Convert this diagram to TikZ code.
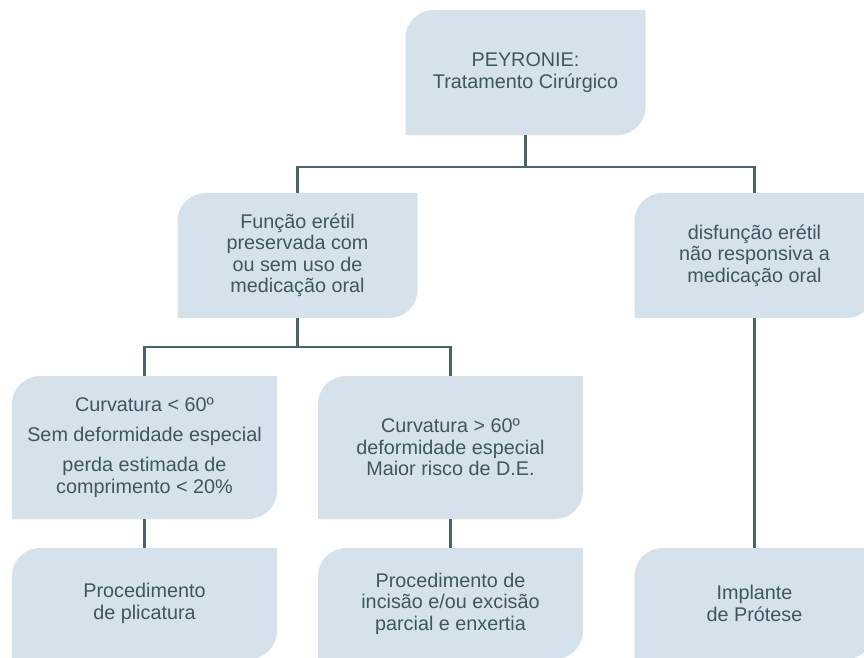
\documentclass[tikz,border=0pt]{standalone}
\usepackage{fontspec}
\setmainfont{Liberation Sans}
\usepackage{xcolor}
\usepackage{tikz}
\usetikzlibrary{calc}
\definecolor{boxfill}{HTML}{D6E2EB}
\definecolor{txtcol}{HTML}{3E5660}
\definecolor{linkcol}{HTML}{4A646A}
\tikzset{
  flowbox/.style={align=center, text=txtcol, inner sep=0pt, outer sep=0pt,
    font=\fontsize{19.8}{21.5}\selectfont,
    path picture={
      \fill[boxfill] (path picture bounding box.south west)
        -- ([yshift=-28pt]path picture bounding box.north west)
        arc[start angle=180, end angle=90, radius=28pt]
        -- (path picture bounding box.north east)
        -- ([yshift=28pt]path picture bounding box.south east)
        arc[start angle=0, end angle=-90, radius=28pt]
        -- cycle;
    }},
  upbox/.style={flowbox, minimum width=240pt, minimum height=125pt},
  lowbox/.style={flowbox, minimum width=265pt, minimum height=143pt},
  endbox/.style={flowbox, minimum width=265pt, minimum height=111pt},
  link/.style={draw=linkcol, line width=2.6pt},
}

\begin{document}
\begin{tikzpicture}[x=1pt, y=-1pt]
\useasboundingbox (0,0) rectangle (864,658);
\clip (0,0) rectangle (864,658);
% tree
\node[upbox] (top) at (525.5,72.5) {PEYRONIE:\\Tratamento Cirúrgico};
\node[upbox] (pres) at (297.5,255.5) {Função erétil\\preservada com\\ou sem uso de\\medicação oral};
\node[upbox] (disf) at (754.5,255.5) {disfunção erétil\\não responsiva a\\medicação oral};
\node[lowbox] (curvA) at (144.5,447.5) {Curvatura < 60º\\[8.5pt]Sem deformidade especial\\[8.5pt]perda estimada de\\comprimento < 20\%};
\node[lowbox] (curvB) at (450.5,447.5) {Curvatura > 60º\\deformidade especial\\Maior risco de D.E.};
\node[endbox] (plic) at (144.5,603.5) {Procedimento\\de plicatura};
\node[endbox] (incis) at (450.5,603.5) {Procedimento de\\incisão e/ou excisão\\parcial e enxertia};
\node[endbox, minimum width=240pt] (prot) at (754.5,603.5) {Implante\\de Prótese};
\coordinate (j1) at (525.5,167);
\coordinate (j2) at (297.5,347);
% connectors
\draw[link] (top.south) -- (j1);
\draw[link] (j1) -| (pres.north);
\draw[link] (j1) -| (disf.north);
\draw[link] (pres.south) -- (j2);
\draw[link] (j2) -| (curvA.north);
\draw[link] (j2) -| (curvB.north);
\draw[link] (curvA.south) -- (plic.north);
\draw[link] (curvB.south) -- (incis.north);
\draw[link] (disf.south) -- (prot.north);
\end{tikzpicture}
\end{document}
